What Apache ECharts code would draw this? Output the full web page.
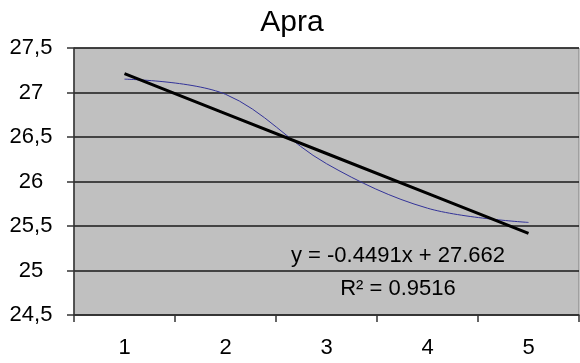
<!DOCTYPE html>
<html>
<head>
<meta charset="utf-8">
<script src="https://cdn.jsdelivr.net/npm/echarts@6/dist/echarts.min.js"></script>
<style>
  html, body { margin: 0; padding: 0; background: #ffffff; }
  #chart { width: 580px; height: 363px; }
</style>
</head>
<body>
<div id="chart"></div>
<script>
// Measured values per period
const categories = ['1', '2', '3', '4', '5'];
const values = [27.15, 26.98, 26.20, 25.70, 25.54];

// Linear trend (least squares) as stated in the equation label
const trendSlope = -0.4491;
const trendIntercept = 27.662;
const rSquared = 0.9516;

// Y axis range and step
const yMin = 24.5;
const yMax = 27.5;
const yStep = 0.5;

const trendValues = categories.map((c, i) => +(trendIntercept + trendSlope * (i + 1)).toFixed(4));

const font = '"Liberation Sans", Arial, sans-serif';
const chart = echarts.init(document.getElementById('chart'));

chart.setOption({
  animation: false,
  backgroundColor: '#ffffff',
  grid: {
    left: 74, right: 1, top: 48, bottom: 48,
    show: true,
    backgroundColor: '#c0c0c0',
    borderColor: '#808080',
    borderWidth: 1
  },
  xAxis: {
    type: 'category',
    data: categories,
    boundaryGap: true,
    axisLine: { lineStyle: { color: '#333333', width: 1.5 } },
    axisTick: { show: true, length: 7, inside: false, lineStyle: { color: '#333333', width: 1.5 } },
    axisLabel: { fontFamily: font, fontSize: 22, color: '#000000', margin: 22 },
    splitLine: { show: false }
  },
  yAxis: {
    type: 'value',
    min: yMin,
    max: yMax,
    interval: yStep,
    axisLine: { show: true, lineStyle: { color: '#333333', width: 1.5 } },
    axisTick: { show: true, length: 7, inside: false, lineStyle: { color: '#333333', width: 1.5 } },
    axisLabel: {
      fontFamily: font, fontSize: 22, color: '#000000', margin: 43, align: 'center',
      formatter: v => String(+v.toFixed(1)).replace('.', ',')
    },
    splitLine: { show: true, lineStyle: { color: '#1a1a1a', width: 1.5 } }
  },
  series: [
    {
      name: 'Apra',
      type: 'line',
      data: values,
      smooth: 0.35,
      showSymbol: false,
      lineStyle: { color: '#333399', width: 1 },
      z: 3
    },
    {
      name: 'Trend',
      type: 'line',
      data: trendValues,
      showSymbol: false,
      lineStyle: { color: '#000000', width: 3 },
      z: 4
    }
  ],
  graphic: [
    {
      type: 'text',
      x: 292,
      y: 23,
      style: {
        text: 'Apra',
        font: '30px ' + font,
        fill: '#000000',
        align: 'center',
        verticalAlign: 'middle'
      },
      z: 10
    },
    {
      type: 'text',
      x: 398,
      y: 256,
      style: {
        text: 'y = -0.4491x + 27.662',
        font: '22px ' + font,
        fill: '#000000',
        align: 'center',
        verticalAlign: 'middle'
      },
      z: 10
    },
    {
      type: 'text',
      x: 398,
      y: 289,
      style: {
        text: 'R² = ' + rSquared.toFixed(4),
        font: '22px ' + font,
        fill: '#000000',
        align: 'center',
        verticalAlign: 'middle'
      },
      z: 10
    }
  ]
});
</script>
</body>
</html>
